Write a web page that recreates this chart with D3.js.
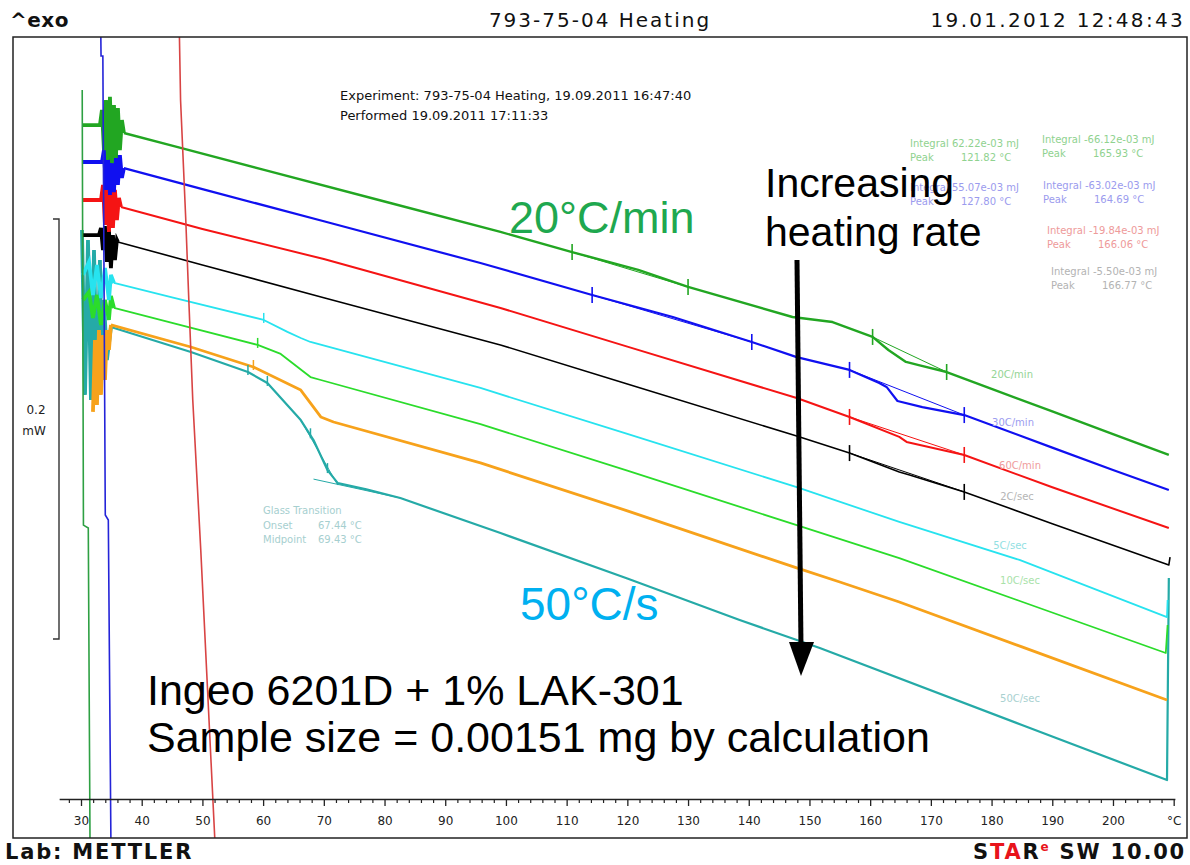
<!DOCTYPE html>
<html>
<head>
<meta charset="utf-8">
<script src="https://cdn.jsdelivr.net/npm/d3@7/dist/d3.min.js"></script>
<style>
html,body{margin:0;padding:0;background:#fff;}
svg{display:block;}
</style>
</head>
<body>
<svg id="chart" width="1190" height="865"></svg>
<script>
// ================= DATA =================
// Each curve: [temperature °C, heat flow mW (stacked offsets as displayed)]
const seriesNames = ["20C/min","30C/min","60C/min","2C/sec","5C/sec","10C/sec","20C/sec","50C/sec"];

const noise20Cmin = [[30.16,.3395],[33.12,.3395],[33.45,.3467],[33.78,.3276],[34.11,.3514],[34.44,.3229],[34.77,.3529],[35.10,.3214],[35.43,.3490],[35.75,.3238],[36.08,.3476],[36.41,.3276],[36.74,.3419]];
const curve20Cmin = [[37.07,.3357],[45,.3297],[60,.3183],[80,.3031],[99.1,.2886],[110.9,.2790],[121.8,.2705],[130,.2624],[147.2,.2481],[153.8,.2457],[160.4,.2386],[163,.2324],[165.9,.2267],[168,.2252],[172.6,.2219],[180,.2139],[190,.2031],[200,.1923],[209.2,.1824]];

const noise30Cmin = [[30.16,.3219],[33.45,.3219],[33.78,.3276],[34.11,.3086],[34.44,.3300],[34.77,.3062],[35.10,.3286],[35.43,.3076],[35.75,.3267],[36.08,.3110],[36.41,.3252],[36.74,.3143]];
const curve30Cmin = [[37.07,.3190],[50,.3090],[70,.2937],[95.8,.2738],[114.2,.2586],[127.5,.2481],[140.5,.2362],[147.9,.2290],[156.6,.2229],[161.5,.2167],[162.7,.2148],[164.5,.2081],[168.6,.2052],[175.5,.2014],[190,.1859],[200,.1752],[209.2,.1657]];

const noise60Cmin = [[30.16,.3038],[33.29,.3038],[33.62,.3110],[33.95,.2919],[34.27,.3133],[34.60,.2886],[34.93,.3095],[35.26,.2905],[35.59,.3086],[35.92,.2943],[36.25,.3048]];
const curve60Cmin = [[36.58,.3005],[50,.2900],[70,.2757],[99.1,.2524],[120,.2340],[147.9,.2095],[156.6,.2005],[164.8,.1910],[166,.1886],[175.5,.1824],[190,.1670],[209.2,.1476]];

const noise2Csec = [[30.16,.2871],[32.96,.2871],[33.29,.2905],[33.62,.2800],[33.95,.2914],[34.27,.2743],[34.60,.2895],[34.93,.2714],[35.26,.2871],[35.59,.2752],[35.92,.2848]];
const curve2Csec = [[36.08,.2838],[50,.2729],[70,.2573],[99.1,.2348],[120,.2162],[147.9,.1914],[156.6,.1833],[164.8,.1743],[166.5,.1729],[175.5,.1648],[190,.1497],[209.2,.1300],[209.4,.1338]];

const noise5Csec = [[30.33,.2681],[31.32,.2743],[31.97,.2586],[32.63,.2729],[33.29,.2571],[33.95,.2714],[34.60,.2562],[34.93,.2681]];
const curve5Csec = [[35.43,.2643],[45,.2575],[60.1,.2467],[64,.2410],[66.2,.2381],[67.8,.2362],[95.8,.2143],[120,.1924],[147.9,.1671],[164.8,.1505],[184.6,.1324],[208.9,.1052],[209.0,.1133]];

const noise10Csec = [[30.33,.2562],[31.32,.2600],[31.97,.2476],[32.63,.2586],[33.29,.2443],[33.95,.2562],[34.60,.2467],[34.93,.2581]];
const curve10Csec = [[35.43,.2524],[45,.2453],[59.1,.2348],[62.9,.2305],[67.8,.2195],[69.5,.2181],[95.8,.1971],[120,.1749],[147.9,.1490],[164.8,.1333],[185,.1125],[208.7,.0881],[209.0,.1014]];

const noise20Csec = [[31.97,.2029],[32.30,.2371],[32.63,.2062],[32.96,.2419],[33.29,.2110],[33.62,.2395],[33.95,.2181],[34.27,.2419],[34.60,.2324]];
const curve20Csec = [[34.93,.2443],[48.1,.2338],[58.4,.2243],[66.2,.2133],[69.5,.2005],[71.6,.1981],[95.8,.1786],[120,.1558],[147.9,.1286],[155,.1219],[164.8,.1124],[185,.0910],[208.9,.0657]];

const noise50Csec = [[30.16,.2895],[30.66,.2110],[31.15,.2848],[31.64,.2086],[32.14,.2800],[32.63,.2133],[33.12,.2752],[33.45,.2181],[33.78,.2562],[34.27,.2276]];
const curve50Csec = [[34.93,.2433],[48.1,.2314],[57.5,.2219],[60.7,.2167],[66.2,.1990],[68.3,.1895],[70.6,.1752],[72.3,.1690],[77,.1660],[82.6,.1619],[99.1,.1452],[120,.1236],[138.5,.1038],[151.7,.0905],[185,.0538],[208.9,.0276],[209.2,.1238]];

// off-scale start transients (vertical traces)
const transientGreen = [[30.2,.3562],[30.4,.1490],[31.2,.1476],[31.5,-0.01]];
const transientBlue  = [[33.2,.40],[33.3,.3724],[33.6,.3724],[34.0,.1538],[34.5,.1514],[34.95,-0.01]];
const transientRed   = [[46.1,.40],[46.4,.3514],[47.26,.2943],[47.76,.2562],[48.41,.2086],[49.73,.1371],[52.2,-0.01]];

// integration limits (°C)
const limits20Cmin = [[110.9,130.0],[160.4,172.6]];
const limits30Cmin = [[114.2,140.5],[156.6,175.5]];
const limits60Cmin = [[156.6,175.5]];
const limits2Csec  = [[156.6,175.5]];
const glassMarks5Csec  = [60.1];
const glassMarks10Csec = [59.1];
const glassMarks20Csec = [58.4];
const glassMarks50Csec = [57.5,60.7,67.8,70.6];

// evaluation results
const integralLines = ["Integral 62.22e-03 mJ","Integral -66.12e-03 mJ","Integral 55.07e-03 mJ","Integral -63.02e-03 mJ","Integral -19.84e-03 mJ","Integral -5.50e-03 mJ"];
const peakValues = ["121.82 °C","165.93 °C","127.80 °C","164.69 °C","166.06 °C","166.77 °C"];
const glassLabels = ["Glass Transition","Onset","Midpoint"];
const glassValues = ["","67.44 °C","69.43 °C"];

// axis
const tickValues = [30,40,50,60,70,80,90,100,110,120,130,140,150,160,170,180,190,200,210];
const tickLabels = ["30","40","50","60","70","80","90","100","110","120","130","140","150","160","170","180","190","200","°C"];
const minorTickValues = [28,32,34,36,38,42,44,46,48,52,54,56,58,62,64,66,68,72,74,76,78,82,84,86,88,92,94,96,98,102,104,106,108,112,114,116,118,122,124,126,128,132,134,136,138,142,144,146,148,152,154,156,158,162,164,166,168,172,174,176,178,182,184,186,188,192,194,196,198,202,204,206,208];

// ================= DRAWING =================
const svg = d3.select("#chart");
const F = {x0:13, y0:37, x1:1187, y1:838};
const x = d3.scaleLinear().domain([26.4, 210.2]).range([59.15, 1174.9]);
const y = d3.scaleLinear().domain([0, 0.38143]).range([838, 37]);
const line = d3.line().x(d=>x(d[0])).y(d=>y(d[1]));

svg.append("defs").append("clipPath").attr("id","clip")
  .append("rect").attr("x",F.x0).attr("y",F.y0).attr("width",F.x1-F.x0).attr("height",F.y1-F.y0);

const plot = svg.append("g").attr("clip-path","url(#clip)");

const series = [
  {name:seriesNames[7], noise:noise50Csec, curve:curve50Csec, color:"#25aaa7", w:2.2, label:[1020,699], lc:"#a9d1d0"},
  {name:seriesNames[6], noise:noise20Csec, curve:curve20Csec, color:"#f7a21b", w:2.8, label:null},
  {name:seriesNames[5], noise:noise10Csec, curve:curve10Csec, color:"#2bdc2b", w:1.8, label:[1020,581], lc:"#a9e2a9"},
  {name:seriesNames[4], noise:noise5Csec,  curve:curve5Csec,  color:"#27e3ef", w:1.8, label:[1010,546], lc:"#92dfe3"},
  {name:seriesNames[3], noise:noise2Csec,  curve:curve2Csec,  color:"#000000", w:1.6, label:[1017,497], lc:"#b5b5b5"},
  {name:seriesNames[2], noise:noise60Cmin, curve:curve60Cmin, color:"#f51414", w:2.0, label:[1020,466], lc:"#ef9c9c"},
  {name:seriesNames[1], noise:noise30Cmin, curve:curve30Cmin, color:"#1010f0", w:2.2, label:[1013,423], lc:"#9c9cf0"},
  {name:seriesNames[0], noise:noise20Cmin, curve:curve20Cmin, color:"#22a622", w:2.4, label:[1012,375], lc:"#94d494"}
];

series.forEach(s=>{
  plot.append("path").datum(s.noise.concat([s.curve[0]]))
    .attr("d",line).attr("fill","none").attr("stroke",s.color).attr("stroke-width",3.8).attr("stroke-linejoin","miter");
  plot.append("path").datum(s.curve)
    .attr("d",line).attr("fill","none").attr("stroke",s.color).attr("stroke-width",s.w).attr("stroke-linejoin","round");
});

function at(curve, T){
  const i = d3.bisector(d=>d[0]).left(curve, T);
  if(i<=0) return curve[0][1];
  if(i>=curve.length) return curve[curve.length-1][1];
  const a=curve[i-1], b=curve[i];
  return a[1]+(b[1]-a[1])*(T-a[0])/(b[0]-a[0]);
}

const limitSets = [
  {curve:curve20Cmin, lim:limits20Cmin, color:"#22a622"},
  {curve:curve30Cmin, lim:limits30Cmin, color:"#1010f0"},
  {curve:curve60Cmin, lim:limits60Cmin, color:"#f51414"},
  {curve:curve2Csec,  lim:limits2Csec,  color:"#000000"}
];
limitSets.forEach(s=>{
  s.lim.forEach(pair=>{
    plot.append("line")
      .attr("x1",x(pair[0])).attr("y1",y(at(s.curve,pair[0])))
      .attr("x2",x(pair[1])).attr("y2",y(at(s.curve,pair[1])))
      .attr("stroke",s.color).attr("stroke-width",1);
    pair.forEach(T=>{
      const yy = y(at(s.curve,T));
      plot.append("line").attr("x1",x(T)).attr("x2",x(T)).attr("y1",yy-8).attr("y2",yy+8)
        .attr("stroke",s.color).attr("stroke-width",1.6);
    });
  });
});
[[curve5Csec,glassMarks5Csec,"#27e3ef"],[curve10Csec,glassMarks10Csec,"#2bdc2b"],[curve20Csec,glassMarks20Csec,"#f7a21b"],[curve50Csec,glassMarks50Csec,"#25aaa7"]].forEach(g=>{
  g[1].forEach(T=>{
    const yy=y(at(g[0],T));
    plot.append("line").attr("x1",x(T)).attr("x2",x(T)).attr("y1",yy-7).attr("y2",yy+3)
      .attr("stroke",g[2]).attr("stroke-width",1.5);
  });
});
// glass transition tangents on 50C/sec
plot.append("line").attr("x1",x(66.2)).attr("y1",y(at(curve50Csec,66.2))).attr("x2",x(72.3)).attr("y2",y(at(curve50Csec,72.3))+2)
  .attr("stroke","#25aaa7").attr("stroke-width",1);
plot.append("line").attr("x1",x(68.3)).attr("y1",y(at(curve50Csec,72.3))-4).attr("x2",x(82.6)).attr("y2",y(at(curve50Csec,82.6)))
  .attr("stroke","#25aaa7").attr("stroke-width",1);

// transients
[[transientGreen,"#2ea043"],[transientBlue,"#2424d8"],[transientRed,"#d84444"]].forEach(t=>{
  plot.append("path").datum(t[0]).attr("d",line).attr("fill","none").attr("stroke",t[1]).attr("stroke-width",1.6);
});

// curve labels
series.forEach(s=>{
  if(!s.label) return;
  svg.append("text").attr("x",s.label[0]).attr("y",s.label[1]+3).attr("text-anchor","middle")
    .attr("font-family","DejaVu Sans").attr("font-size",10).attr("fill",s.lc).text(s.name);
});

// integral annotations
const integralPos = [[910,147,"#8fd28f"],[1042,143,"#8fd28f"],[910,191,"#9b9bee"],[1043,189,"#9b9bee"],[1047,234,"#ee9a9a"],[1051,275,"#b3b3b3"]];
integralPos.forEach((p,i)=>{
  const g = svg.append("g").attr("font-family","DejaVu Sans").attr("font-size",10).attr("fill",p[2]);
  g.append("text").attr("x",p[0]).attr("y",p[1]).text(integralLines[i]);
  g.append("text").attr("x",p[0]).attr("y",p[1]+14).text("Peak");
  g.append("text").attr("x",p[0]+51).attr("y",p[1]+14).text(peakValues[i]);
});
// glass transition
glassLabels.forEach((t,i)=>{
  const g = svg.append("g").attr("font-family","DejaVu Sans").attr("font-size",10).attr("fill","#a6cfcf");
  g.append("text").attr("x",263).attr("y",514+i*14.5).text(t);
  g.append("text").attr("x",318).attr("y",514+i*14.5).text(glassValues[i]);
});

// frame
svg.append("rect").attr("x",F.x0).attr("y",F.y0).attr("width",F.x1-F.x0).attr("height",F.y1-F.y0)
  .attr("fill","none").attr("stroke","#222").attr("stroke-width",1.5);

// axis
const axisG = svg.append("g").attr("transform","translate(0,799)")
  .call(d3.axisBottom(x).tickValues(tickValues).tickFormat((d,i)=>tickLabels[i]).tickSize(7).tickSizeOuter(0).tickPadding(10));
axisG.select(".domain").attr("stroke","#222").attr("stroke-width",1.3);
axisG.selectAll(".tick line").attr("stroke","#222").attr("stroke-width",1.3);
axisG.selectAll(".tick text").attr("font-family","DejaVu Sans").attr("font-size",12).attr("fill","#222");
const minorG = svg.append("g").attr("transform","translate(0,799)")
  .call(d3.axisBottom(x).tickValues(minorTickValues).tickFormat("").tickSize(4).tickSizeOuter(0));
minorG.select(".domain").remove();
minorG.selectAll(".tick line").attr("stroke","#222").attr("stroke-width",1.2);

// scale bar 0.2 mW
const sb = svg.append("g").attr("stroke","#333").attr("stroke-width",1.4).attr("fill","none");
sb.append("path").attr("d",`M53,219 H59 V${219 + (y(0)-y(0.2))} H53`);
svg.append("text").attr("x",36).attr("y",414).attr("text-anchor","middle").attr("font-family","DejaVu Sans").attr("font-size",12).attr("fill","#222").text("0.2");
svg.append("text").attr("x",34).attr("y",435).attr("text-anchor","middle").attr("font-family","DejaVu Sans").attr("font-size",12).attr("fill","#222").text("mW");

// header / footer
const hdr = {ff:"DejaVu Sans", fs:20};
svg.append("text").attr("x",10).attr("y",27).attr("font-family",hdr.ff).attr("font-size",hdr.fs).attr("font-weight","bold").attr("letter-spacing",0.5).attr("fill","#111").text("^exo");
svg.append("text").attr("x",600).attr("y",27).attr("text-anchor","middle").attr("font-family",hdr.ff).attr("font-size",hdr.fs).attr("letter-spacing",2).attr("fill","#111").text("793-75-04 Heating");
svg.append("text").attr("x",1185).attr("y",27).attr("text-anchor","end").attr("font-family",hdr.ff).attr("font-size",hdr.fs).attr("letter-spacing",2.3).attr("fill","#111").text("19.01.2012 12:48:43");
svg.append("text").attr("x",5).attr("y",859).attr("font-family",hdr.ff).attr("font-size",21).attr("font-weight","bold").attr("letter-spacing",1.8).attr("fill","#111").text("Lab: METTLER");
const star = svg.append("text").attr("x",1186).attr("y",859).attr("text-anchor","end").attr("font-family",hdr.ff).attr("font-size",21).attr("font-weight","bold").attr("letter-spacing",1.8).attr("fill","#111");
star.append("tspan").text("S");
star.append("tspan").attr("fill","#e8141b").text("TA");
star.append("tspan").text("R");
star.append("tspan").attr("fill","#e8141b").attr("font-size",12).attr("dy",-8).text("e");
star.append("tspan").attr("dy",8).text(" SW 10.00");

svg.append("text").attr("x",340).attr("y",100).attr("font-family","DejaVu Sans").attr("font-size",13).attr("fill","#111").text("Experiment: 793-75-04 Heating, 19.09.2011 16:47:40");
svg.append("text").attr("x",340).attr("y",120).attr("font-family","DejaVu Sans").attr("font-size",13).attr("fill","#111").text("Performed 19.09.2011 17:11:33");

// big annotations
const big = "Liberation Sans, Arial, sans-serif";
svg.append("text").attr("x",509).attr("y",233).attr("font-family",big).attr("font-size",45).attr("fill","#1fa84f").text("20°C/min");
svg.append("text").attr("x",765).attr("y",197).attr("font-family",big).attr("font-size",41).attr("fill","#000").text("Increasing");
svg.append("text").attr("x",765).attr("y",246).attr("font-family",big).attr("font-size",41).attr("fill","#000").text("heating rate");
svg.append("text").attr("x",520).attr("y",620).attr("font-family",big).attr("font-size",46).attr("fill","#00b0f0").text("50°C/s");
svg.append("text").attr("x",147).attr("y",705).attr("font-family",big).attr("font-size",43).attr("fill","#000").text("Ingeo 6201D + 1% LAK-301");
svg.append("text").attr("x",147).attr("y",752).attr("font-family",big).attr("font-size",43).attr("fill","#000").text("Sample size = 0.00151 mg by calculation");

// arrow
svg.append("line").attr("x1",797).attr("y1",260).attr("x2",801).attr("y2",648).attr("stroke","#000").attr("stroke-width",5);
svg.append("path").attr("d","M789,642 L814,642 L801,676 Z").attr("fill","#000");
</script>
</body>
</html>
